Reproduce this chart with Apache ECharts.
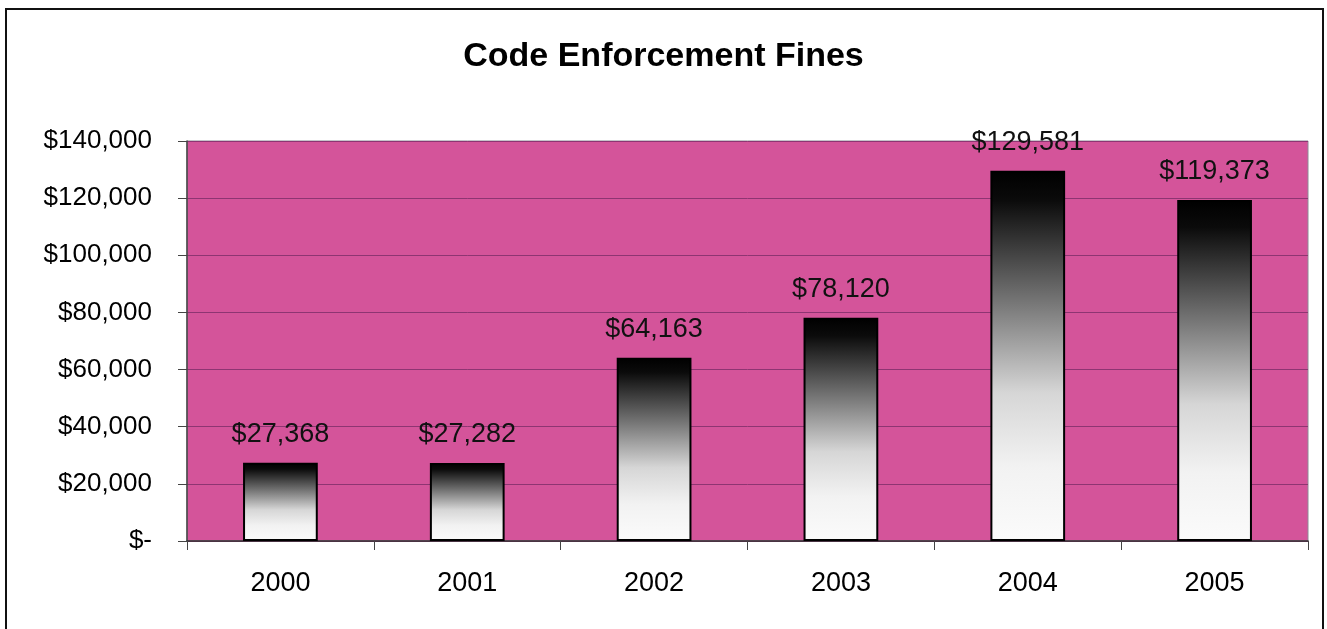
<!DOCTYPE html>
<html>
<head>
<meta charset="utf-8">
<script src="https://cdn.jsdelivr.net/npm/echarts@6/dist/echarts.min.js"></script>
<style>
  html, body { margin: 0; padding: 0; background: #ffffff; }
  #chart { width: 1327px; height: 629px; }
</style>
</head>
<body>
<div id="chart"></div>
<script>
// Annual code enforcement fine totals
const years = ['2000', '2001', '2002', '2003', '2004', '2005'];
const fines = [27368, 27282, 64163, 78120, 129581, 119373];
const yTicks = [0, 20000, 40000, 60000, 80000, 100000, 120000, 140000];

const FONT = '"Liberation Sans", Arial, Helvetica, sans-serif';

function money(v) {
  if (v === 0) return '$-';
  return '$' + v.toLocaleString('en-US');
}

const chart = echarts.init(document.getElementById('chart'), null, { renderer: 'canvas' });

chart.setOption({
  animation: false,
  backgroundColor: '#ffffff',
  title: {
    text: 'Code Enforcement Fines',
    left: 'center',
    top: 35,
    textStyle: { fontFamily: FONT, fontSize: 34, fontWeight: 'bold', color: '#000' }
  },
  graphic: [{
    type: 'rect',
    shape: { x: 6, y: 9, width: 1317, height: 640 },
    style: { fill: 'none', stroke: '#111', lineWidth: 2 },
    z: 100
  }],
  grid: {
    left: 187, right: 19, top: 141, bottom: 88,
    show: true,
    backgroundColor: '#D4549A',
    borderColor: '#8c8a96',
    borderWidth: 1
  },
  xAxis: {
    type: 'category',
    data: years,
    axisLine: { lineStyle: { color: '#333', width: 1.5 } },
    axisTick: { show: true, length: 9, interval: 0, lineStyle: { color: '#444' } },
    axisLabel: { margin: 29, fontFamily: FONT, fontSize: 27, color: '#000' }
  },
  yAxis: {
    type: 'value',
    min: yTicks[0],
    max: yTicks[yTicks.length - 1],
    interval: yTicks[1] - yTicks[0],
    axisLine: { show: true, lineStyle: { color: '#444', width: 1.5 } },
    axisTick: { show: true, length: 9, lineStyle: { color: '#444' } },
    splitLine: { lineStyle: { color: '#8e3572', width: 1 } },
    axisLabel: {
      margin: 35,
      fontFamily: FONT,
      fontSize: 26,
      color: '#000',
      formatter: money
    }
  },
  series: [{
    type: 'bar',
    data: fines,
    barWidth: '40%',
    itemStyle: {
      borderColor: '#000',
      borderWidth: 2,
      color: new echarts.graphic.LinearGradient(0, 0, 0, 1, [
        { offset: 0, color: '#000000' },
        { offset: 0.08, color: '#0b0b0b' },
        { offset: 0.35, color: '#747474' },
        { offset: 0.6, color: '#d6d6d6' },
        { offset: 0.8, color: '#f2f2f2' },
        { offset: 1, color: '#fbfbfb' }
      ])
    },
    label: {
      show: true,
      position: 'top',
      distance: 15,
      fontFamily: FONT,
      fontSize: 27,
      color: '#111',
      formatter: p => money(p.value)
    }
  }]
});
</script>
</body>
</html>
